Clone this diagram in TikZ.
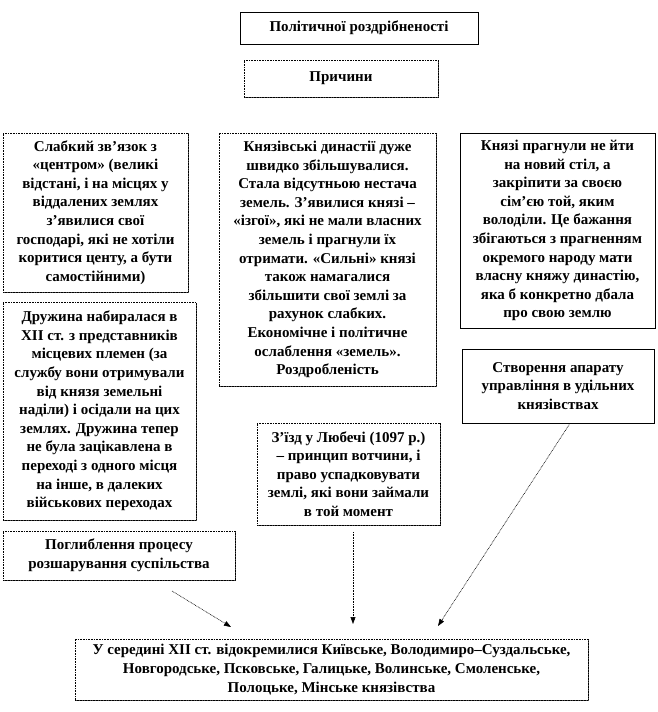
\documentclass[tikz,border=0pt]{standalone}
\usepackage{fontspec}
\setmainfont{Liberation Serif}
\usetikzlibrary{shadows,arrows.meta}
\begin{document}
\begin{tikzpicture}[x=1pt,y=-1pt,
 box/.style={draw=black, line width=0.7pt, fill=white, align=center, inner sep=1pt,
   font=\bfseries\fontsize{15}{18.6}\selectfont},
 shadowed/.style={drop shadow={shadow xshift=1.2pt, shadow yshift=-1.2pt, fill=black!70, opacity=1}},
 dotbox/.style={box, shadowed, dash pattern=on 0.8pt off 0.8pt},
 solidbox/.style={box},
 arr/.style={-{Triangle[length=7pt,width=5pt]}, line width=0.6pt, dash pattern=on 0.8pt off 0.8pt}
]
\useasboundingbox (0,0) rectangle (658,712);
\fill[white] (0,0) rectangle (658,712);

\node[solidbox, shadowed, minimum width=238pt, minimum height=32pt] (title) at (359,28) {Політичної роздрібненості};

\node[dotbox, minimum width=194pt, minimum height=37pt] (cause) at (341,78.5) {Причини};

\node[dotbox, minimum width=185pt, minimum height=159pt] (c1) at (95.5,212.5) {Слабкий зв’язок з\\«центром» (великі\\відстані, і на місцях у\\віддалених землях\\з’явилися свої\\господарі, які не хотіли\\коритися центу, а бути\\самостійними)};

\node[dotbox, minimum width=217pt, minimum height=253pt] (c2) at (327.5,259.5) {Князівські  династії дуже\\швидко збільшувалися.\\Стала відсутньою нестача\\земель. З’явилися князі –\\«ізгої»,  які не мали власних\\земель і прагнули їх\\отримати. «Сильні» князі\\також намагалися\\збільшити  свої землі за\\рахунок слабких.\\Економічне і політичне\\ослаблення «земель».\\Роздробленість};

\node[solidbox, minimum width=195pt, minimum height=195pt] (c3) at (557.5,230.5) {Князі прагнули не йти\\на новий стіл, а\\закріпити за своєю\\сім’єю той, яким\\володіли. Це бажання\\збігаються  з прагненням\\окремого  народу мати\\власну княжу династію,\\яка б конкретно дбала\\про свою землю};

\node[dotbox, minimum width=193pt, minimum height=218pt] (c4) at (99.5,411) {Дружина набиралася в\\XII ст. з представників\\місцевих племен (за\\службу вони отримували\\від князя  земельні\\наділи) і осідали на цих\\землях.  Дружина тепер\\не була зацікавлена в\\переході з одного місця\\на інше, в далеких\\військових переходах};

\node[dotbox, minimum width=183pt, minimum height=102pt] (c5) at (348.5,474) {З’їзд  у Любечі (1097 р.)\\– принцип вотчини, і\\право успадковувати\\землі, які  вони займали\\в той момент};

\node[solidbox, minimum width=192pt, minimum height=74pt] (c6) at (558,386) {Створення апарату\\управління в удільних\\князівствах};

\node[dotbox, minimum width=232pt, minimum height=49pt] (c7) at (119,555.5) {Поглиблення процесу\\розшарування  суспільства};

\node[dotbox, minimum width=513pt, minimum height=61pt] (res) at (331.5,669.5) {У середині XII  ст. відокремилися Київське, Володимиро–Суздальське,\\Новгородське, Псковське, Галицьке, Волинське, Смоленське,\\Полоцьке, Мінське  князівства};

\coordinate (a1s) at (172,591);
\coordinate (a1e) at (231,627);
\coordinate (a2s) at (353,532);
\coordinate (a2e) at (353,624);
\coordinate (a3e) at (438,626);
\draw[arr] (a1s) -- (a1e);
\draw[arr] (a2s) -- (a2e);
\draw[arr] ([xshift=12pt]c6.south) -- (a3e);
\end{tikzpicture}
\end{document}
